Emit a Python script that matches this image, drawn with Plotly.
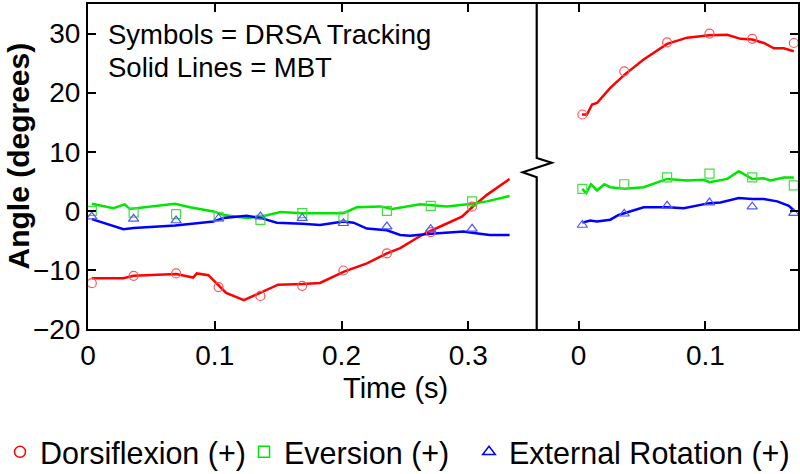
import plotly.graph_objects as go

# ---------------- data ----------------
# Left segment (before break) - MBT solid lines
dorsi_left_t = [0.003, 0.028, 0.036, 0.0695, 0.083, 0.0858, 0.095, 0.104, 0.109, 0.123, 0.136,
                0.141, 0.150, 0.169, 0.183, 0.202, 0.22, 0.2358, 0.2463, 0.2595, 0.266, 0.2805,
                0.295, 0.303, 0.3147, 0.3326]
dorsi_left_v = [-11.4, -11.4, -11.0, -10.7, -11.3, -10.6, -10.9, -12.8, -13.9, -15.1, -13.9,
                -13.4, -12.5, -12.4, -12.2, -10.3, -8.9, -7.2, -6.3, -4.6, -3.8, -2.4,
                -1.0, 0.6, 2.7, 5.4]

ever_left_t = [0.003, 0.02, 0.029, 0.033, 0.0687, 0.0805, 0.099, 0.107, 0.125, 0.136, 0.152,
               0.169, 0.2015, 0.212, 0.2305, 0.2399, 0.262, 0.2704, 0.2832, 0.3029, 0.3147, 0.3326]
ever_left_v = [1.2, 0.45, 1.1, 0.3, 1.2, 0.6, -0.1, -0.7, -1.2, -1.0, -0.2,
               -0.4, -0.4, 0.6, 0.75, 0.3, 1.1, 1.0, 0.75, 1.2, 1.6, 2.5]

extrot_left_t = [0.003, 0.028, 0.036, 0.0687, 0.0858, 0.099, 0.107, 0.125, 0.136, 0.149, 0.169,
                 0.183, 0.2015, 0.2095, 0.22, 0.2358, 0.2463, 0.254, 0.2704, 0.2963, 0.3029,
                 0.317, 0.3326]
extrot_left_v = [-1.4, -3.1, -2.9, -2.5, -2.1, -1.8, -1.2, -0.85, -1.2, -2.0, -2.2,
                 -2.4, -1.8, -2.0, -3.0, -3.3, -4.1, -4.2, -3.9, -3.5, -3.7,
                 -4.1, -4.1]

# Left segment - DRSA symbols
sym_left_t = [0.003, 0.036, 0.0695, 0.103, 0.136, 0.169, 0.2015, 0.2358, 0.2704, 0.303]
dorsi_sym_left = [-12.25, -11.0, -10.6, -12.9, -14.4, -12.7, -10.1, -7.2, -3.6, 0.7]
ever_sym_left = [0.0, -0.3, -0.56, -1.0, -1.53, -0.4, -0.97, 0.0, 0.85, 1.6]
extrot_sym_left = [-0.97, -1.36, -1.64, -1.3, -0.97, -1.24, -2.1, -2.66, -3.1, -3.05]

# Right segment (after break) - MBT solid lines
dorsi_right_t = [0.0027, 0.0066, 0.0106, 0.0145, 0.025, 0.0363, 0.0513, 0.0698, 0.0856, 0.1032,
                 0.1172, 0.1277, 0.1369, 0.146, 0.154, 0.1618, 0.1697]
dorsi_right_v = [16.3, 16.3, 18.0, 18.25, 20.8, 23.05, 25.6, 28.25, 29.3, 29.7,
                 29.8, 29.1, 29.0, 28.4, 27.5, 27.5, 27.0]

ever_right_t = [0.0029, 0.006, 0.0098, 0.0145, 0.0203, 0.025, 0.0363, 0.0513, 0.0698, 0.0856,
                0.0987, 0.1032, 0.1172, 0.1263, 0.1369, 0.146, 0.1513, 0.1618, 0.1697]
ever_right_v = [3.7, 3.0, 4.5, 3.45, 4.5, 4.0, 3.75, 4.0, 5.4, 5.15,
                5.25, 4.85, 5.4, 6.7, 5.4, 5.5, 5.15, 5.65, 5.65]

extrot_right_t = [0.003, 0.0092, 0.0145, 0.025, 0.0316, 0.0363, 0.0513, 0.0698, 0.0829, 0.1032,
                  0.1119, 0.1263, 0.1369, 0.146, 0.1566, 0.1658, 0.1697]
extrot_right_v = [-2.0, -1.65, -1.8, -1.5, -0.7, -0.4, 0.6, 0.6, 0.45, 1.3,
                  1.4, 2.15, 2.0, 2.0, 1.6, 0.85, 0.05]

# Right segment - DRSA symbols
sym_right_t = [0.003, 0.036, 0.0698, 0.1032, 0.1369, 0.1697]
dorsi_sym_right = [16.3, 23.6, 28.5, 30.0, 29.1, 28.4]
ever_sym_right = [3.7, 4.5, 5.65, 6.3, 5.65, 4.3]
extrot_sym_right = [-2.4, -0.5, 0.85, 1.4, 0.7, -0.4]

series_names = ["Dorsiflexion (+)", "Eversion (+)", "External Rotation (+)"]
x_tick_left = [0, 0.1, 0.2, 0.3]
x_tick_left_text = ["0", "0.1", "0.2", "0.3"]
x_tick_right = [0, 0.1]
x_tick_right_text = ["0", "0.1"]
y_ticks = [-20, -10, 0, 10, 20, 30]

# ---------------- styling ----------------
FONT = "Arial, 'Liberation Sans', Helvetica, sans-serif"
RED, GREEN, BLUE = "#ff0000", "#00e600", "#0000ff"
SYM_RED, SYM_GREEN, SYM_BLUE = "#ff5555", "#44dd44", "#5555ff"
L, R, T, B = 88, 2, 4, 145
W, H = 800, 474
PW = W - L - R
PH = H - T - B
SPLIT = 0.632


def px_x(px):
    return (px - L) / PW


def px_y(py):
    return (H - B - py) / PH


fig = go.Figure()

lines = [
    (dorsi_left_t, dorsi_left_v, dorsi_right_t, dorsi_right_v, RED),
    (ever_left_t, ever_left_v, ever_right_t, ever_right_v, GREEN),
    (extrot_left_t, extrot_left_v, extrot_right_t, extrot_right_v, BLUE),
]
for lt, lv, rt, rv, col in lines:
    fig.add_trace(go.Scatter(x=lt, y=lv, mode="lines", line=dict(color=col, width=2.5),
                             showlegend=False, xaxis="x", yaxis="y"))
    fig.add_trace(go.Scatter(x=rt, y=rv, mode="lines", line=dict(color=col, width=2.5),
                             showlegend=False, xaxis="x2", yaxis="y2"))

legend_ids = ["legend", "legend2", "legend3"]
legend_x_px = [0, 244, 469]

syms = [
    (dorsi_sym_left, dorsi_sym_right, "circle-open", SYM_RED, RED, series_names[0]),
    (ever_sym_left, ever_sym_right, "square-open", SYM_GREEN, GREEN, series_names[1]),
    (extrot_sym_left, extrot_sym_right, "triangle-up-open", SYM_BLUE, BLUE, series_names[2]),
]
for i, (lv, rv, sym, col, lcol, name) in enumerate(syms):
    fig.add_trace(go.Scatter(x=sym_left_t, y=lv, mode="markers", name=name,
                             marker=dict(symbol=sym, size=9, color=col, line=dict(width=1.2, color=col)),
                             showlegend=False, xaxis="x", yaxis="y"))
    fig.add_trace(go.Scatter(x=sym_right_t, y=rv, mode="markers", name=name,
                             marker=dict(symbol=sym, size=9, color=col, line=dict(width=1.2, color=col)),
                             showlegend=False, xaxis="x2", yaxis="y2"))
    # legend entry
    fig.add_trace(go.Scatter(x=[None], y=[None], mode="markers", name=name,
                             marker=dict(symbol=sym, size=11, color=lcol, line=dict(width=1.5, color=lcol)),
                             showlegend=True, legend=legend_ids[i], xaxis="x", yaxis="y"))

axis_common = dict(showline=True, linecolor="black", linewidth=2, ticks="inside", ticklen=8,
                   tickwidth=2, tickcolor="black", showgrid=False, zeroline=False, automargin=False,
                   tickfont=dict(family=FONT, size=28, color="black"))

legend_common = dict(orientation="h", xref="container", yref="container", xanchor="left",
                     yanchor="middle", font=dict(family=FONT, size=30.5, color="black"),
                     bgcolor="rgba(0,0,0,0)", itemsizing="trace")

fig.update_layout(
    width=W, height=H,
    margin=dict(l=L, r=R, t=T, b=B, autoexpand=False),
    paper_bgcolor="white", plot_bgcolor="white",
    font=dict(family=FONT, color="black"),
    xaxis=dict(domain=[0, SPLIT], range=[0, 0.354], tickvals=x_tick_left, ticktext=x_tick_left_text,
               anchor="y", mirror="ticks", **axis_common),
    xaxis2=dict(domain=[SPLIT, 1], range=[-0.033, 0.173], tickvals=x_tick_right,
                ticktext=x_tick_right_text, anchor="y2", mirror="ticks", **axis_common),
    yaxis=dict(domain=[0, 1], range=[-20, 35], tickvals=y_ticks, anchor="x", mirror=False, **axis_common),
    yaxis2=dict(domain=[0, 1], range=[-20, 35], tickvals=y_ticks, anchor="x2", side="right",
                showticklabels=False, mirror=False, **axis_common),
    showlegend=True,
    legend=dict(x=legend_x_px[0] / W, y=(H - 452) / H, **legend_common),
    legend2=dict(x=legend_x_px[1] / W, y=(H - 452) / H, **legend_common),
    legend3=dict(x=legend_x_px[2] / W, y=(H - 452) / H, **legend_common),
)

# broken-axis divider with zigzag
d = SPLIT
path = (f"M {d},{px_y(4)} L {d},{px_y(158)} L {px_x(551.7)},{px_y(162.7)} "
        f"L {px_x(522.7)},{px_y(172.3)} L {d},{px_y(177.3)} L {d},0")
fig.add_shape(type="path", path=path, xref="paper", yref="paper",
              line=dict(color="black", width=2.2))

fig.add_annotation(text="Symbols = DRSA Tracking", x=px_x(106), y=px_y(34), xref="paper", yref="paper",
                   xanchor="left", yanchor="middle", showarrow=False,
                   font=dict(family=FONT, size=27.5, color="black"))
fig.add_annotation(text="Solid Lines = MBT", x=px_x(106), y=px_y(67), xref="paper", yref="paper",
                   xanchor="left", yanchor="middle", showarrow=False,
                   font=dict(family=FONT, size=27.5, color="black"))
fig.add_annotation(text="Time (s)", x=px_x(395.5), y=px_y(388), xref="paper", yref="paper",
                   xanchor="center", yanchor="middle", showarrow=False,
                   font=dict(family=FONT, size=29, color="black"))
fig.add_annotation(text="<b>Angle (degrees)</b>", x=px_x(18), y=px_y(156.5), xref="paper", yref="paper",
                   xanchor="center", yanchor="middle", showarrow=False, textangle=-90,
                   font=dict(family=FONT, size=30, color="black"))

fig.write_html("out.html", config={"displayModeBar": False},
               post_script="document.body.style.margin='0';")
